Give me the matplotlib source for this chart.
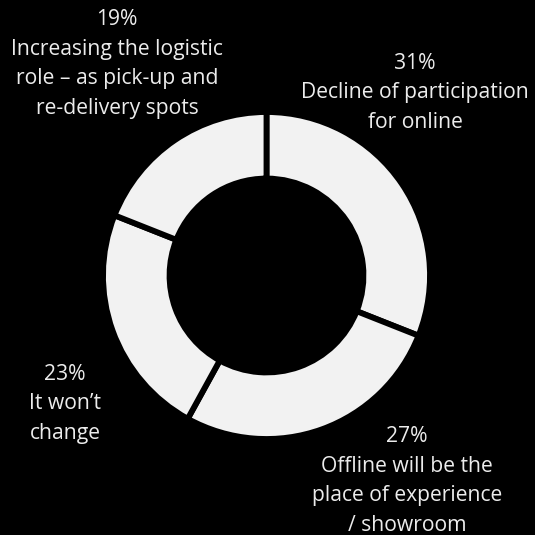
import matplotlib
matplotlib.use("Agg")
from matplotlib import pyplot as plt

plt.rcParams['font.family'] = ['Open Sans', 'DejaVu Sans']

# shares of answers, clockwise from the top
shares = [31, 27, 23, 19]
answers = [
    "Decline of participation\nfor online",
    "Offline will be the\nplace of experience\n/ showroom",
    "It won\u2019t\nchange",
    "Increasing the logistic\nrole \u2013 as pick-up and\nre-delivery spots",
]

ring = "#f2f2f2"
txt = "#ececec"

fig = plt.figure(figsize=(5.35, 5.35), dpi=100, facecolor="black")
ax = fig.add_axes([0, 0, 1, 1])
ax.set_facecolor("black")

ax.pie(shares, startangle=90, counterclock=False, radius=1,
       colors=[ring] * len(shares),
       wedgeprops=dict(width=0.407, edgecolor="black", linewidth=4.2))

# centre of the ring sits at (266.5, 275.5) px, radius 163.5 px
ax.set_xlim(-266.5 / 163.5, (535 - 266.5) / 163.5)
ax.set_ylim(-(535 - 275.5) / 163.5, 275.5 / 163.5)
ax.set_aspect("equal")
ax.axis("off")

label_xy = [(0.908, 1.118), (0.859, -1.257), (-1.232, -0.785), (-0.914, 1.294)]
for s, a, (x, y) in zip(shares, answers, label_xy):
    ax.text(x, y, f"{s}%\n{a}", ha="center", va="center", color=txt,
            fontsize=15.2, linespacing=1.53)

fig.savefig("out.png", dpi=100, facecolor="black")
